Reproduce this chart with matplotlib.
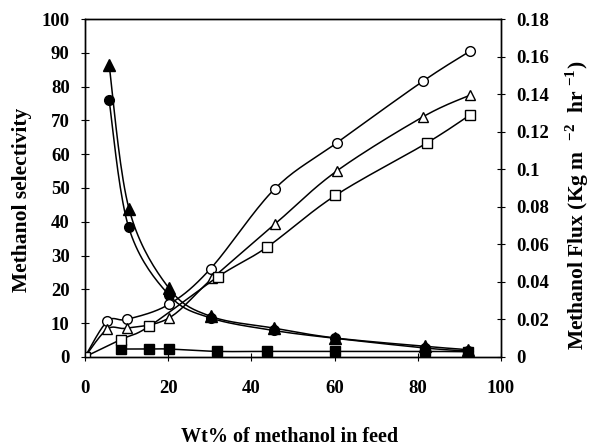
import numpy as np
import matplotlib
matplotlib.use("Agg")
import matplotlib.pyplot as plt
from matplotlib.ticker import FuncFormatter

plt.rcParams['font.family'] = ['Liberation Serif', 'DejaVu Serif']
plt.rcParams['font.weight'] = 'bold'
plt.rcParams['mathtext.fontset'] = 'custom'
plt.rcParams['mathtext.rm'] = 'Liberation Serif:bold'
plt.rcParams['mathtext.bf'] = 'Liberation Serif:bold'

# selectivity (left axis), filled markers
sel_tri_x = [5.8, 10.6, 20.2, 30.2, 45.4, 60, 81.8, 92.2]
sel_tri_y = [86.5, 43.8, 20.3, 12, 8.5, 5.6, 3.1, 2.1]
sel_circ_x = [5.8, 10.5, 20.2, 30.2, 45.4, 60, 81.8, 92.2]
sel_circ_y = [76, 38.4, 18.3, 11.5, 7.8, 5.5, 2.6, 1.7]
sel_sq_x = [8.6, 15.4, 20.2, 31.8, 43.8, 60, 81.8, 92.2]
sel_sq_y = [2.3, 2.3, 2.3, 1.6, 1.6, 1.6, 1.6, 1.5]

# flux (right axis), open markers
flux_circ_x = [0, 5.4, 10.2, 20.2, 30.2, 45.6, 60.5, 81.3, 92.6]
flux_circ_y = [0, 0.019, 0.020, 0.028, 0.047, 0.0895, 0.114, 0.147, 0.163]
flux_tri_x = [0, 5.4, 10.2, 20.2, 30.6, 45.6, 60.5, 81.3, 92.6]
flux_tri_y = [0, 0.0148, 0.0153, 0.0207, 0.0418, 0.0706, 0.099, 0.128, 0.1395]
flux_sq_x = [0, 8.6, 15.4, 32, 43.8, 60.2, 82.2, 92.6]
flux_sq_y = [0, 0.0092, 0.0162, 0.0427, 0.0585, 0.086, 0.114, 0.129]


def smooth(x, y, n=20):
    # catmull-rom through the points, like a spreadsheet smoothed line
    p = np.column_stack([x, y]).astype(float)
    p = np.vstack([p[0], p, p[-1]])
    out = []
    t = np.linspace(0, 1, n)[:, None]
    for i in range(1, len(p) - 2):
        p0, p1, p2, p3 = p[i - 1], p[i], p[i + 1], p[i + 2]
        seg = 0.5 * ((2 * p1) + (-p0 + p2) * t + (2 * p0 - 5 * p1 + 4 * p2 - p3) * t ** 2
                     + (-p0 + 3 * p1 - 3 * p2 + p3) * t ** 3)
        out.append(seg)
    s = np.vstack(out)
    return s[:, 0], s[:, 1]


fig = plt.figure(figsize=(5.9, 4.46), dpi=100)
ax1 = fig.add_axes([0.144, 0.2, 0.705, 0.757])
ax2 = ax1.twinx()

lw = 1.1
for xs, ys, m, ms in [(sel_tri_x, sel_tri_y, '^', 8), (sel_circ_x, sel_circ_y, 'o', 7),
                      (sel_sq_x, sel_sq_y, 's', 7)]:
    sx, sy = smooth(xs, ys)
    ax1.plot(sx, sy, color='black', lw=lw)
    ax1.plot(xs, ys, ls='none', marker=m, ms=ms, color='black')

for xs, ys, m, ms in [(flux_circ_x, flux_circ_y, 'o', 7), (flux_tri_x, flux_tri_y, '^', 7.5),
                      (flux_sq_x, flux_sq_y, 's', 7)]:
    sx, sy = smooth(xs, ys)
    ax2.plot(sx, sy, color='black', lw=lw)
    ax2.plot(xs, ys, ls='none', marker=m, ms=ms, mfc='white', mec='black', mew=1.0)

ax1.set_xlim(0, 100)
ax1.set_ylim(0, 100)
ax2.set_ylim(0, 0.18)
ax1.set_xticks(np.arange(0, 101, 20))
ax1.set_yticks(np.arange(0, 101, 10))
ax2.set_yticks(np.arange(0, 0.181, 0.02))
ax2.yaxis.set_major_formatter(FuncFormatter(lambda v, p: '%g' % round(v, 2)))

ax1.tick_params(axis='both', direction='inout', length=6, width=0.8, labelsize=13.5)
ax1.tick_params(axis='x', pad=14)
ax1.tick_params(axis='y', pad=8)
ax2.tick_params(axis='y', direction='inout', length=6, width=0.8, labelsize=13.5, pad=8)

for ax in (ax1, ax2):
    for sp in ax.spines.values():
        sp.set_linewidth(1.0)

fig.text(0.49, 0.02, 'Wt% of methanol in feed', fontsize=14.5, fontweight='bold',
         ha='center', va='center')
fig.text(0.037, 0.552, 'Methanol selectivity', fontsize=15.5, fontweight='bold',
         rotation=90, ha='center', va='center')
fig.text(0.978, 0.54, 'Methanol Flux (Kg m  $^{-2}$  hr $^{-1}$)', fontsize=15.5,
         fontweight='bold', rotation=90, ha='center', va='center')

fig.savefig('out.png', dpi=100)
